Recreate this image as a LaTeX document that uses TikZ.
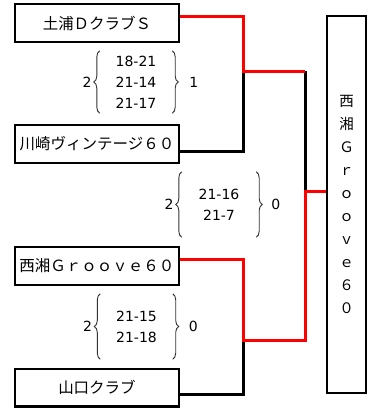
\documentclass[tikz,border=0pt]{standalone}
\usepackage{fontspec}
\setmainfont{DejaVu Sans}
\newfontfamily\jpfont{Noto Sans CJK JP}
\usetikzlibrary{positioning,decorations.pathreplacing}

\tikzset{
    team/.style={draw, line width=2.4pt, minimum width=163.6pt, minimum height=37.6pt, inner sep=0pt, font=\jpfont\fontsize{15.5}{18}\selectfont},
    champbox/.style={draw, line width=2.4pt, minimum width=38.6pt, minimum height=376.6pt, inner sep=0pt, align=center, font=\jpfont\fontsize{14.5}{23.1}\selectfont},
    scores/.style={minimum width=72pt, minimum height=62pt, inner sep=0pt, align=center, font=\fontsize{14}{21}\selectfont},
    setcount/.style={inner sep=0pt, font=\fontsize{14}{16}\selectfont},
    scorebrace/.style={decorate, decoration={brace, amplitude=6pt}, line width=0.9pt, black!80},
    winline/.style={draw=red, line width=3pt},
    loseline/.style={draw=black, line width=3pt}
}

\begin{document}
\begin{tikzpicture}[x=1pt, y=-1pt]
\useasboundingbox (0,0) rectangle (368,408);

\node[team] (tsuchiura) at (97,23) {土浦ＤクラブＳ};
\node[team] (kawasaki) at (97,144) {川崎ヴィンテージ６０};
\node[team] (shonan) at (97,266) {西湘Ｇｒｏｏｖｅ６０};
\node[team] (yamaguchi) at (97,387.5) {山口クラブ};
\node[champbox] (champ) at (346.5,204.5) {西\\湘\\Ｇ\\ｒ\\ｏ\\ｏ\\ｖ\\ｅ\\６\\０};

\coordinate (semiA) at (243,71);
\coordinate (semiB) at (243,340);
\coordinate (final) at (305,191);

% losers first, winners on top
\draw[loseline] ([yshift=-7pt]kawasaki.east) -| (semiA);
\draw[loseline] ([yshift=-6.5pt]yamaguchi.east) -| (semiB);
\draw[loseline] (semiA -| final) -- (final);
\draw[winline] ([yshift=7pt]tsuchiura.east) -| (semiA) -- (semiA -| final);
\draw[winline] ([yshift=7pt]shonan.east) -| (semiB) -| (final) -- (final -| champ.west);

% set scores
\node[scores] (scoreA) at (136,82) {18-21\\21-14\\21-17};
\node[setcount, left=8pt of scoreA] (setsA1) {2};
\node[setcount, right=17pt of scoreA] (setsA2) {1};
\draw[scorebrace] (scoreA.south west) -- (scoreA.north west);
\draw[scorebrace] (scoreA.north east) -- (scoreA.south east);

\node[scores, minimum width=74pt, minimum height=65pt] (scoreF) at (219,204.5) {21-16\\21-7};
\node[setcount, left=8pt of scoreF] (setsF1) {2};
\node[setcount, right=15pt of scoreF] (setsF2) {0};
\draw[scorebrace] (scoreF.south west) -- (scoreF.north west);
\draw[scorebrace] (scoreF.north east) -- (scoreF.south east);

\node[scores, minimum height=65pt] (scoreB) at (136.5,326.5) {21-15\\21-18};
\node[setcount, left=8pt of scoreB] (setsB1) {2};
\node[setcount, right=16pt of scoreB] (setsB2) {0};
\draw[scorebrace] (scoreB.south west) -- (scoreB.north west);
\draw[scorebrace] (scoreB.north east) -- (scoreB.south east);
\end{tikzpicture}
\end{document}
